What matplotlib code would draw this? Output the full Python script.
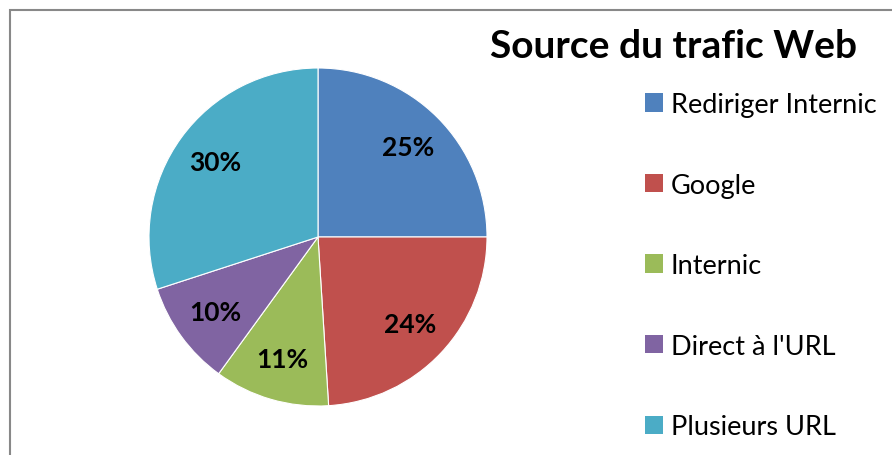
import matplotlib.pyplot as plt
from matplotlib.patches import Rectangle, Patch

sources = ["Rediriger Internic", "Google", "Internic", "Direct à l'URL", "Plusieurs URL"]
shares = [25, 24, 11, 10, 30]
colors = ["#4F81BD", "#C0504D", "#9BBB59", "#8064A2", "#4BACC6"]

plt.rcParams['font.family'] = ['Lato', 'DejaVu Sans']

fig = plt.figure(figsize=(8.92, 4.56), dpi=100)
W, H = 892, 456

# chart frame (cut off at right and bottom like the screenshot)
fig.patches.append(Rectangle((10 / W, -0.1), 1.1, 1 - 11 / H + 0.1, transform=fig.transFigure,
                             fill=False, edgecolor="#888888", linewidth=1.5))

cx, cy, r = 318, 238, 169
ax = fig.add_axes([(cx - r) / W, (H - cy - r) / H, 2 * r / W, 2 * r / H])
wedges, texts, autotexts = ax.pie(shares, colors=colors, startangle=90, counterclock=False,
                                  autopct="%d%%", pctdistance=0.75,
                                  wedgeprops=dict(edgecolor="white", linewidth=0.8),
                                  textprops=dict(fontsize=19, fontweight="bold", color="black"))
ax.set_xlim(-1, 1)
ax.set_ylim(-1, 1)
ax.set_aspect("equal")

fig.text(674 / W, 1 - 47 / H, "Source du trafic Web", ha="center", va="center",
         fontsize=28, fontweight="bold")

handles = [Patch(facecolor=c, edgecolor="none") for c in colors]
fig.legend(handles, sources, loc="upper left", bbox_to_anchor=(645 / W, 1 - 93 / H),
           frameon=False, fontsize=19.5, handlelength=0.65, handleheight=0.65,
           handletextpad=0.3, labelspacing=2.05, borderpad=0, borderaxespad=0)

fig.savefig("out.png", dpi=100)
